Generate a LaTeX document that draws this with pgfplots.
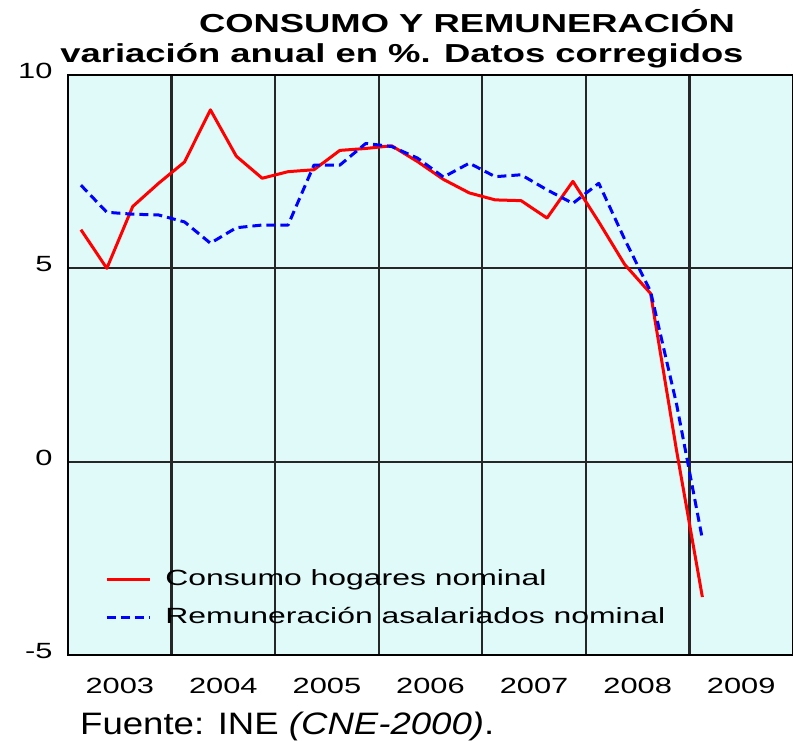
\documentclass[border=0pt]{standalone}
\usepackage{pgfplots}
\pgfplotsset{compat=1.18}
\usepackage{fontspec}
\setmainfont{Liberation Sans}
\newfontfamily\wide[FakeStretch=1.4]{Liberation Sans}
\newfontfamily\widel[FakeStretch=1.45]{Liberation Sans}
\newfontfamily\widef[FakeStretch=1.18]{Liberation Sans}
\definecolor{bg}{RGB}{224,250,250}

\begin{document}
\begin{tikzpicture}[x=1pt,y=1pt]
\path[use as bounding box] (0,0) rectangle (793,740);
\begin{axis}[
  at={(68pt,85pt)}, anchor=south west,
  scale only axis, width=725pt, height=580pt,
  xmin=2003, xmax=2010, ymin=-5, ymax=10,
  axis background/.style={fill=bg},
  axis line style={black, line width=2.4pt},
  xtick={2003,2004,2005,2006,2007,2008,2009,2010},
  x tick label as interval,
  xticklabels={2003,2004,2005,2006,2007,2008,2009},
  ytick={-5,0,5,10},
  major tick length=0pt,
  grid=major, grid style={black!85, line width=2.2pt},
  /pgf/number format/assume math mode=true,
  ticklabel style={font=\wide\fontsize{22}{26}\selectfont},
  yticklabel style={xshift=-12pt, yshift=4pt},
  xticklabel style={yshift=-20pt},
  legend style={at={(axis cs:2003.33,-3.54)}, anchor=west, draw=none, fill=none,
    font=\widel\fontsize{22}{26}\selectfont, row sep=19pt,
    nodes={inner sep=0pt, text height=15pt, text depth=4pt},
    /tikz/every odd column/.append style={column sep=14pt}},
  legend cell align=left,
  legend image code/.code={\draw[#1] (0pt,0pt) -- (43pt,0pt);},
]
\addplot[red, line width=3pt, line join=round] coordinates {
(2003.125,6.0) (2003.375,5.0) (2003.625,6.6) (2003.875,7.2)
(2004.125,7.75) (2004.375,9.1) (2004.625,7.9) (2004.875,7.33)
(2005.125,7.5) (2005.375,7.55) (2005.625,8.05) (2005.875,8.1)
(2006.125,8.17) (2006.375,7.76) (2006.625,7.3) (2006.875,6.95)
(2007.125,6.77) (2007.375,6.75) (2007.625,6.3) (2007.875,7.25)
(2008.125,6.2) (2008.375,5.1) (2008.625,4.35) (2008.875,0.3)
(2009.125,-3.5)
};
\addlegendentry{Consumo hogares nominal}
\addplot[blue, line width=3pt, dash pattern=on 9pt off 5pt, line join=round] coordinates {
(2003.125,7.15) (2003.375,6.45) (2003.625,6.4) (2003.875,6.38)
(2004.125,6.2) (2004.375,5.65) (2004.625,6.05) (2004.875,6.12)
(2005.125,6.12) (2005.375,7.67) (2005.625,7.67) (2005.875,8.23)
(2006.125,8.15) (2006.375,7.85) (2006.625,7.36) (2006.875,7.72)
(2007.125,7.37) (2007.375,7.42) (2007.625,7.03) (2007.875,6.68)
(2008.125,7.2) (2008.375,5.75) (2008.625,4.4) (2008.875,1.5)
(2009.125,-2.0)
};
\addlegendentry{Remuneración asalariados nominal}
\end{axis}
\node[anchor=base, font=\wide\bfseries\fontsize{26}{30}\selectfont] at (467,707) {CONSUMO Y REMUNERACIÓN};
\node[anchor=base, font=\wide\bfseries\fontsize{26}{30}\selectfont] at (402,677) {variación anual en \%. Datos corregidos};
\node[anchor=base west, inner sep=0pt, font=\widef\fontsize{31}{36}\selectfont] at (80,6) {Fuente: INE \textit{(CNE-2000)}.};
\end{tikzpicture}
\end{document}
